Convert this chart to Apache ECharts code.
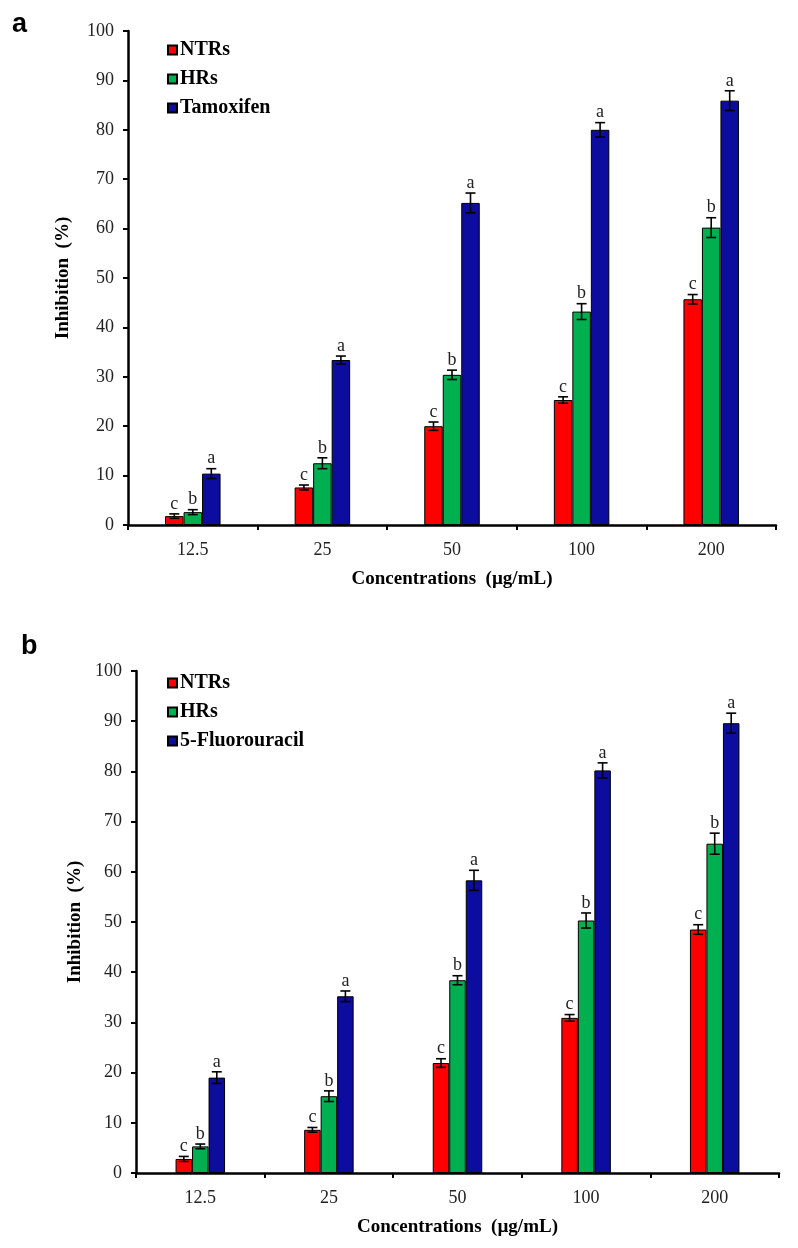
<!DOCTYPE html>
<html>
<head>
<meta charset="utf-8">
<script src="https://cdn.jsdelivr.net/npm/echarts@6/dist/echarts.min.js"></script>
<style>html,body{margin:0;padding:0;background:#fff}#c{width:798px;height:1248px}</style>
</head>
<body>
<div id="c"></div>
<script>
// ---------- data ----------
const categories = ['12.5', '25', '50', '100', '200'];
const yTicks = [0, 10, 20, 30, 40, 50, 60, 70, 80, 90, 100];

// Panel a
const ntrA = [1.8, 7.6, 20.0, 25.3, 45.7];
const hrA = [2.6, 12.5, 30.4, 43.2, 60.2];
const tamA = [10.4, 33.4, 65.2, 80.0, 85.9];
const ntrErrA = [0.45, 0.5, 0.85, 0.65, 0.95];
const hrErrA = [0.5, 1.1, 0.95, 1.6, 2.0];
const tamErrA = [1.0, 0.8, 2.0, 1.45, 2.0];

// Panel b
const ntrB = [2.8, 8.6, 21.9, 30.9, 48.5];
const hrB = [5.3, 15.3, 38.4, 50.3, 65.6];
const fuB = [19.0, 35.2, 58.3, 80.2, 89.6];
const ntrErrB = [0.5, 0.47, 0.86, 0.66, 0.96];
const hrErrB = [0.47, 1.06, 0.9, 1.5, 2.1];
const fuErrB = [1.16, 1.06, 2.0, 1.5, 2.0];

const sigNTR = 'c', sigHR = 'b', sigRef = 'a';

// ---------- styles ----------
const RED = '#ff0000', GREEN = '#00b050', BLUE = '#0c0c9e';
const SERIF = '"Liberation Serif","Times New Roman",serif';
const BW_A = 18.5, BW_B = 16.5;

const chart = echarts.init(document.getElementById('c'), null, {renderer: 'canvas'});

function xAxis(gi) {
  return {
    type: 'category', gridIndex: gi, data: categories,
    axisLine: {lineStyle: {color: '#000', width: 2.5}},
    axisTick: {show: true, length: 5, lineStyle: {color: '#000', width: 2}},
    axisLabel: {fontFamily: SERIF, fontSize: 18, color: '#222', margin: 16},
    name: 'Concentrations  (\u00b5g/mL)', nameLocation: 'middle', nameGap: 45,
    nameTextStyle: {fontFamily: SERIF, fontSize: 19, fontWeight: 'bold', color: '#000'}
  };
}
function yAxis(gi, gap) {
  return {
    type: 'value', gridIndex: gi, min: yTicks[0], max: yTicks[yTicks.length - 1], interval: 10,
    axisLine: {show: true, lineStyle: {color: '#000', width: 2.5}},
    axisTick: {show: true, length: 5, lineStyle: {color: '#000', width: 2}},
    splitLine: {show: false},
    axisLabel: {fontFamily: SERIF, fontSize: 18, color: '#222', margin: 14},
    name: 'Inhibition  (%)', nameLocation: 'middle', nameGap: gap, nameRotate: 90,
    nameTextStyle: {fontFamily: SERIF, fontSize: 19, fontWeight: 'bold', color: '#000'}
  };
}
function bar(name, gi, vals, color, bw) {
  return {
    type: 'bar', name: name, xAxisIndex: gi, yAxisIndex: gi, data: vals,
    barWidth: bw, barGap: '0%',
    itemStyle: {color: color, borderColor: '#000', borderWidth: 1},
    emphasis: {disabled: true}, animation: false
  };
}
function err(gi, vals, errs, letter, pos, bw) {
  return {
    type: 'custom', xAxisIndex: gi, yAxisIndex: gi, silent: true, animation: false,
    data: vals.map((v, i) => [i, v, errs[i]]),
    z: 5,
    renderItem: function (params, api) {
      const i = api.value(0), v = api.value(1), e = api.value(2);
      const c = api.coord([i, v]);
      const hi = api.coord([i, v + e]);
      const lo = api.coord([i, v - e]);
      const cx = c[0] + pos * bw;
      const cap = 5;
      const st = {stroke: '#000', lineWidth: 1.6};
      return {
        type: 'group', children: [
          {type: 'line', shape: {x1: cx, y1: hi[1], x2: cx, y2: lo[1]}, style: st},
          {type: 'line', shape: {x1: cx - cap, y1: hi[1], x2: cx + cap, y2: hi[1]}, style: st},
          {type: 'line', shape: {x1: cx - cap, y1: lo[1], x2: cx + cap, y2: lo[1]}, style: st},
          {type: 'text', style: {x: cx, y: hi[1] - 1, text: letter, align: 'center', verticalAlign: 'bottom',
            font: '18px ' + SERIF, fill: '#222'}}
        ]
      };
    }
  };
}
function legend(names, top, left) {
  return {
    data: names, orient: 'vertical', left: left, top: top, itemGap: 9,
    itemWidth: 9, itemHeight: 9, icon: 'rect', selectedMode: false,
    textStyle: {fontFamily: SERIF, fontSize: 20, fontWeight: 'bold', color: '#000', padding: [0, 0, 0, -2]}
  };
}

chart.setOption({
  animation: false,
  grid: [
    {left: 128, right: 22, top: 31, bottom: 723, containLabel: false},
    {left: 136, right: 19, top: 671, bottom: 75, containLabel: false}
  ],
  xAxis: [xAxis(0), xAxis(1)],
  yAxis: [yAxis(0, 55), yAxis(1, 51)],
  legend: [
    legend(['NTRs', 'HRs', 'Tamoxifen'], 35, 162),
    legend(['NTRs', 'HRs', '5-Fluorouracil'], 668, 162)
  ],
  graphic: [
    {type: 'text', left: 12, top: 11, style: {text: 'a', font: 'bold 27px "Liberation Sans",Arial,sans-serif', fill: '#000'}},
    {type: 'text', left: 21, top: 633, style: {text: 'b', font: 'bold 27px "Liberation Sans",Arial,sans-serif', fill: '#000'}}
  ],
  series: [
    bar('NTRs', 0, ntrA, RED, BW_A),
    bar('HRs', 0, hrA, GREEN, BW_A),
    bar('Tamoxifen', 0, tamA, BLUE, BW_A),
    err(0, ntrA, ntrErrA, sigNTR, -1, BW_A),
    err(0, hrA, hrErrA, sigHR, 0, BW_A),
    err(0, tamA, tamErrA, sigRef, 1, BW_A),
    bar('NTRs', 1, ntrB, RED, BW_B),
    bar('HRs', 1, hrB, GREEN, BW_B),
    bar('5-Fluorouracil', 1, fuB, BLUE, BW_B),
    err(1, ntrB, ntrErrB, sigNTR, -1, BW_B),
    err(1, hrB, hrErrB, sigHR, 0, BW_B),
    err(1, fuB, fuErrB, sigRef, 1, BW_B)
  ]
});
</script>
</body>
</html>
